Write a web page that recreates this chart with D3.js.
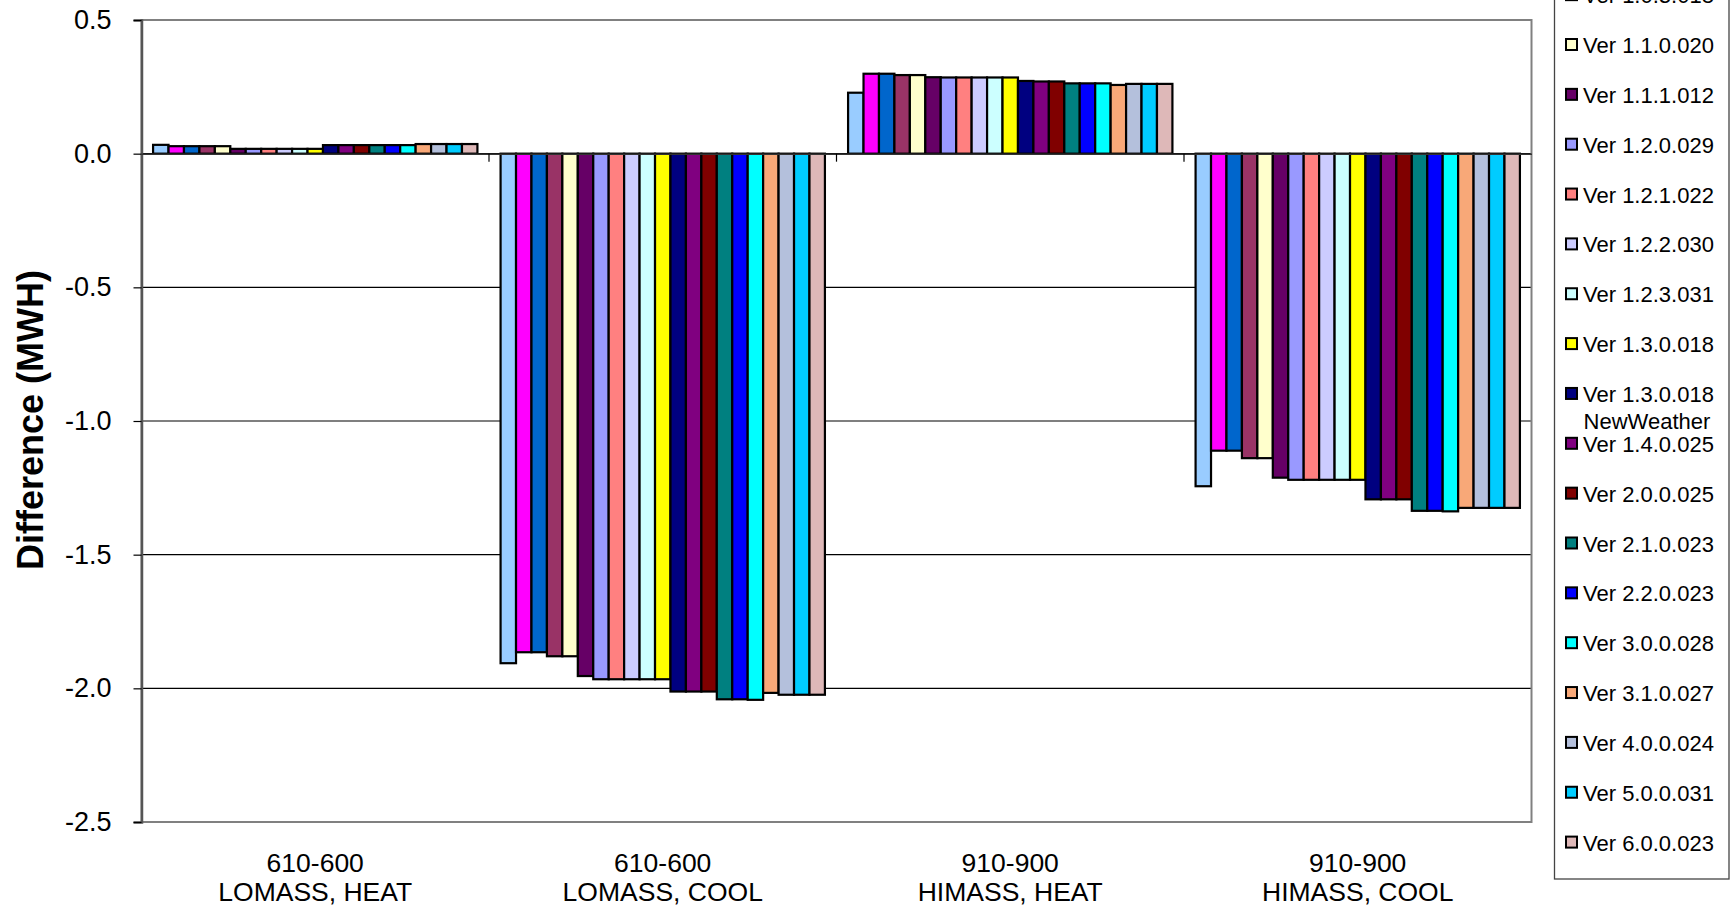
<!DOCTYPE html>
<html>
<head>
<meta charset="utf-8">
<script src="https://cdn.jsdelivr.net/npm/d3@7"></script>
<style>
  html, body { margin: 0; padding: 0; background: #ffffff; overflow: hidden; }
  svg { display: block; font-family: "Liberation Sans", Arial, sans-serif; }
</style>
</head>
<body>
<svg id="chart" width="1730" height="910"></svg>
<script>
// ---- data ----
const categories = [
  ["610-600", "LOMASS, HEAT"],
  ["610-600", "LOMASS, COOL"],
  ["910-900", "HIMASS, HEAT"],
  ["910-900", "HIMASS, COOL"]
];
const seriesNames = [
  ["Ver 1.0.0.180"], ["Ver 1.0.1.018"], ["Ver 1.0.2.008"], ["Ver 1.0.3.018"],
  ["Ver 1.1.0.020"], ["Ver 1.1.1.012"], ["Ver 1.2.0.029"], ["Ver 1.2.1.022"],
  ["Ver 1.2.2.030"], ["Ver 1.2.3.031"], ["Ver 1.3.0.018"],
  ["Ver 1.3.0.018", "NewWeather"],
  ["Ver 1.4.0.025"], ["Ver 2.0.0.025"], ["Ver 2.1.0.023"], ["Ver 2.2.0.023"],
  ["Ver 3.0.0.028"], ["Ver 3.1.0.027"], ["Ver 4.0.0.024"], ["Ver 5.0.0.031"],
  ["Ver 6.0.0.023"]
];
const seriesColors = [
  "#99CCFF", "#FF00FF", "#0066CC", "#993366", "#FFFFCC", "#660066", "#9999FF",
  "#FF8080", "#CCCCFF", "#CCFFFF", "#FFFF00", "#000080", "#800080", "#800000",
  "#008080", "#0000FF", "#00FFFF", "#F8A878", "#B4C0DC", "#00CCFF", "#DEB8B8"
];
const lomassHeat = [0.033, 0.028, 0.028, 0.028, 0.028, 0.018, 0.018, 0.018, 0.018, 0.018, 0.018,
                    0.032, 0.032, 0.032, 0.032, 0.032, 0.032, 0.036, 0.036, 0.036, 0.036];
const lomassCool = [-1.906, -1.865, -1.865, -1.880, -1.880, -1.954, -1.966, -1.966, -1.966, -1.966, -1.966,
                    -2.012, -2.012, -2.012, -2.041, -2.041, -2.043, -2.017, -2.024, -2.024, -2.024];
const himassHeat = [0.228, 0.299, 0.299, 0.294, 0.294, 0.286, 0.285, 0.285, 0.285, 0.285, 0.285,
                    0.272, 0.270, 0.270, 0.263, 0.263, 0.263, 0.257, 0.261, 0.261, 0.261];
const himassCool = [-1.244, -1.111, -1.111, -1.139, -1.139, -1.212, -1.220, -1.220, -1.220, -1.220, -1.220,
                    -1.293, -1.293, -1.293, -1.336, -1.336, -1.338, -1.325, -1.325, -1.325, -1.325];
const groupValues = [lomassHeat, lomassCool, himassHeat, himassCool];
const yTicks = [0.5, 0.0, -0.5, -1.0, -1.5, -2.0, -2.5];
const yTitle = "Difference (MWH)";

// ---- layout ----
const svg = d3.select("#chart");
const plot = { left: 141.5, right: 1531.5, top: 20, bottom: 822 };

const y = d3.scaleLinear().domain([-2.5, 0.5]).range([plot.bottom, plot.top]);
const x0 = d3.scaleBand().domain(d3.range(categories.length))
  .range([plot.left, plot.right]).paddingInner(0).paddingOuter(0);
const x1 = d3.scaleBand().domain(d3.range(seriesNames.length))
  .range([0, x0.bandwidth()]).paddingInner(0).paddingOuter(0.75);

// gridlines
svg.append("g").selectAll("line")
  .data(yTicks.filter(t => t !== 0.5 && t !== -2.5))
  .join("line")
  .attr("x1", plot.left).attr("x2", plot.right)
  .attr("y1", d => y(d)).attr("y2", d => y(d))
  .attr("stroke", "#000").attr("stroke-width", 1.2);

// plot border
svg.append("rect")
  .attr("x", plot.left).attr("y", plot.top)
  .attr("width", plot.right - plot.left).attr("height", plot.bottom - plot.top)
  .attr("fill", "none").attr("stroke", "#808080").attr("stroke-width", 2);

// y axis
const yAxis = d3.axisLeft(y).tickValues(yTicks).tickFormat(d3.format(".1f"))
  .tickSize(8).tickPadding(22);
const gy = svg.append("g").attr("transform", `translate(${plot.left},0)`).call(yAxis);
gy.select(".domain").attr("stroke", "#555").attr("stroke-width", 2.5);
gy.selectAll(".tick line").attr("stroke", "#000").attr("stroke-width", 1.2);
gy.selectAll(".tick text").attr("font-size", 27).attr("fill", "#000")
  .attr("font-family", "'Liberation Sans', Arial, sans-serif")
  .text(d => d3.format(".1f")(d).replace("−", "-"));

// bars
const groups = svg.append("g").selectAll("g")
  .data(groupValues)
  .join("g")
  .attr("transform", (d, i) => `translate(${x0(i)},0)`);
groups.selectAll("rect")
  .data(d => d.map((v, j) => ({ v, j })))
  .join("rect")
  .attr("x", d => x1(d.j))
  .attr("width", x1.bandwidth())
  .attr("y", d => y(Math.max(0, d.v)))
  .attr("height", d => Math.abs(y(d.v) - y(0)))
  .attr("fill", d => seriesColors[d.j])
  .attr("stroke", "#000").attr("stroke-width", 2.2);

// x axis (at zero)
const xAxis = d3.axisBottom(x0).tickSize(0).tickFormat("");
const gx = svg.append("g").attr("transform", `translate(0,${y(0)})`).call(xAxis);
gx.select(".domain").attr("stroke", "#333").attr("stroke-width", 1.5);
// category boundary ticks
svg.append("g").selectAll("line")
  .data(d3.range(1, categories.length))
  .join("line")
  .attr("x1", d => x0(d)).attr("x2", d => x0(d))
  .attr("y1", y(0)).attr("y2", y(0) + 8)
  .attr("stroke", "#000").attr("stroke-width", 1.2);

// category labels
const catLabels = svg.append("g").selectAll("text")
  .data(categories)
  .join("text")
  .attr("x", (d, i) => x0(i) + x0.bandwidth() / 2)
  .attr("text-anchor", "middle")
  .attr("font-size", 26.5)
  .attr("fill", "#000");
catLabels.append("tspan").attr("x", (d, i) => x0(i) + x0.bandwidth() / 2)
  .attr("y", 872).text(d => d[0]);
catLabels.append("tspan").attr("x", (d, i) => x0(i) + x0.bandwidth() / 2)
  .attr("y", 901).text(d => d[1]);

// y title
svg.append("text")
  .attr("transform", "translate(43,420) rotate(-90)")
  .attr("text-anchor", "middle")
  .attr("font-size", 36).attr("font-weight", "bold").attr("fill", "#000")
  .text(yTitle);

// legend
const legend = { left: 1554.5, right: 1729, bottom: 879, firstY: 45 - 4 * 49.85, step: 49.85 };
svg.append("rect")
  .attr("x", legend.left).attr("y", -10)
  .attr("width", legend.right - legend.left).attr("height", legend.bottom + 10)
  .attr("fill", "#fff").attr("stroke", "#444").attr("stroke-width", 1.3);
const items = svg.append("g").selectAll("g")
  .data(seriesNames)
  .join("g")
  .attr("transform", (d, i) => `translate(0,${legend.firstY + i * legend.step})`);
items.append("rect")
  .attr("x", 1566).attr("y", -6).attr("width", 11).attr("height", 11)
  .attr("fill", (d, i) => seriesColors[i])
  .attr("stroke", "#000").attr("stroke-width", 2);
items.append("text")
  .attr("x", 1583).attr("y", 8)
  .attr("font-size", 22).attr("fill", "#000")
  .text(d => d[0]);
items.filter(d => d.length > 1).append("text")
  .attr("x", 1647).attr("y", 35)
  .attr("text-anchor", "middle")
  .attr("font-size", 22).attr("fill", "#000")
  .text(d => d[1]);
</script>
</body>
</html>
